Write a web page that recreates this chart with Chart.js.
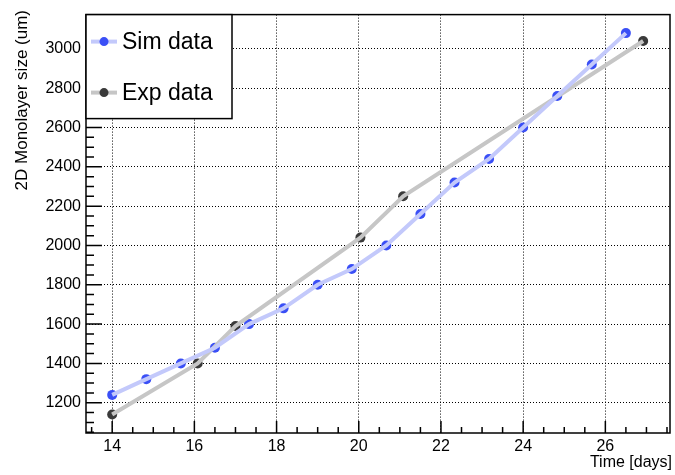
<!DOCTYPE html>
<html lang="en">
<head>
<meta charset="UTF-8" />
<title>Monolayer size</title>
<script src="https://cdn.jsdelivr.net/npm/chart.js@4.4.1/dist/chart.umd.min.js"></script>
<style>
  html, body { margin: 0; padding: 0; background: #fff; }
  #wrap { width: 675px; height: 475px; }
</style>
</head>
<body>
<div id="wrap"><canvas id="myChart" width="675" height="475"></canvas></div>
<script>
// values
const simDays = [14, 14.83, 15.67, 16.5, 17.33, 18.17, 19, 19.83, 20.67, 21.5, 22.33, 23.17, 24, 24.83, 25.67, 26.5];
const simSize = [1240, 1320, 1400, 1480, 1600, 1680, 1800, 1880, 2000, 2160, 2320, 2440, 2600, 2760, 2920, 3080];
const expDays = [14, 16.08, 17.0, 20.04, 21.08, 26.92];
const expSize = [1140, 1400, 1590, 2040, 2250, 3040];
const xTickValues = [14, 16, 18, 20, 22, 24, 26];
const yTickValues = [1200, 1400, 1600, 1800, 2000, 2200, 2400, 2600, 2800, 3000];
const seriesNames = ["Sim data", "Exp data"];

const FONT = "'Liberation Sans', Arial, Helvetica, sans-serif";
const SIM_LINE = "#c3c9fb";
const SIM_DOT = "#3a4ff6";
const EXP_LINE = "#c6c6c6";
const EXP_DOT = "#3a3a3a";

function toPoints(xs, ys) {
  return xs.map((x, i) => ({ x: x, y: ys[i] }));
}

// frame, inner ticks, legend box and axis titles
const rootStyle = {
  id: "rootStyle",
  afterDraw(chart) {
    const ctx = chart.ctx;
    const area = chart.chartArea;
    const xs = chart.scales.x;
    const ys = chart.scales.y;
    ctx.save();

    // tick marks pointing into the frame
    ctx.strokeStyle = "#000";
    ctx.lineWidth = 1.5;
    ctx.beginPath();
    for (let v = 13.5; v <= xs.max; v += 0.5) {
      const px = xs.getPixelForValue(v);
      const len = Number.isInteger(v / 2) ? 12 : 6;
      ctx.moveTo(px, area.bottom);
      ctx.lineTo(px, area.bottom - len);
    }
    for (let v = 1050; v <= ys.max; v += 50) {
      const py = ys.getPixelForValue(v);
      const len = v % 200 === 0 ? 16 : 8;
      ctx.moveTo(area.left, py);
      ctx.lineTo(area.left + len, py);
    }
    ctx.stroke();

    // frame
    ctx.lineWidth = 1.5;
    ctx.strokeRect(area.left, area.top, area.right - area.left, area.bottom - area.top);

    // legend
    const lx = area.left, ly = area.top, lw = 146, lh = 104;
    ctx.fillStyle = "#fff";
    ctx.fillRect(lx, ly, lw, lh);
    ctx.strokeRect(lx, ly, lw, lh);
    const rows = [
      { name: seriesNames[0], line: SIM_LINE, dot: SIM_DOT, y: ly + 27 },
      { name: seriesNames[1], line: EXP_LINE, dot: EXP_DOT, y: ly + 78 },
    ];
    rows.forEach((r) => {
      ctx.strokeStyle = r.line;
      ctx.lineWidth = 4;
      ctx.beginPath();
      ctx.moveTo(lx + 5, r.y);
      ctx.lineTo(lx + 31, r.y);
      ctx.stroke();
      ctx.fillStyle = r.dot;
      ctx.beginPath();
      ctx.arc(lx + 18, r.y, 4.5, 0, Math.PI * 2);
      ctx.fill();
      ctx.fillStyle = "#000";
      ctx.font = "23px " + FONT;
      ctx.textAlign = "left";
      ctx.textBaseline = "middle";
      ctx.fillText(r.name, lx + 36, r.y + 1);
    });

    // axis titles
    ctx.fillStyle = "#000";
    ctx.font = "16px " + FONT;
    ctx.textAlign = "right";
    ctx.textBaseline = "middle";
    ctx.fillText("Time [days]", 672, 463);
    ctx.font = "17px " + FONT;
    ctx.translate(22, 10);
    ctx.rotate(-Math.PI / 2);
    ctx.fillText("2D Monolayer size (um)", 0, 0);

    ctx.restore();
  },
};

const ctx = document.getElementById("myChart").getContext("2d");

new Chart(ctx, {
  type: "scatter",
  data: {
    datasets: [
      {
        label: seriesNames[0] + " line",
        data: toPoints(simDays, simSize),
        showLine: true,
        borderColor: SIM_LINE,
        borderWidth: 4,
        pointRadius: 0,
      },
      {
        label: seriesNames[1] + " line",
        data: toPoints(expDays, expSize),
        showLine: true,
        borderColor: EXP_LINE,
        borderWidth: 4,
        pointRadius: 0,
      },
      {
        label: seriesNames[1],
        data: toPoints(expDays, expSize),
        pointRadius: 5,
        pointBorderWidth: 0,
        borderColor: EXP_DOT,
        backgroundColor: EXP_DOT,
      },
      {
        label: seriesNames[0],
        data: toPoints(simDays, simSize),
        pointRadius: 5,
        pointBorderWidth: 0,
        borderColor: SIM_DOT,
        backgroundColor: SIM_DOT,
      },
    ],
  },
  options: {
    responsive: false,
    animation: false,
    devicePixelRatio: 1,
    layout: { padding: { top: 14, right: 2, left: 0, bottom: 0 } },
    plugins: {
      legend: { display: false },
      tooltip: { enabled: false },
    },
    scales: {
      x: {
        type: "linear",
        min: 13.363,
        max: 27.573,
        afterFit: (scale) => { scale.height = 42; },
        afterBuildTicks: (scale) => { scale.ticks = xTickValues.map((v) => ({ value: v })); },
        grid: { color: "#000", lineWidth: 1, drawTicks: false },
        border: { display: false, dash: [1, 2] },
        ticks: {
          color: "#000",
          padding: 4,
          font: { family: FONT, size: 16 },
          callback: (v) => String(v),
        },
      },
      y: {
        type: "linear",
        min: 1046.1,
        max: 3174.2,
        afterFit: (scale) => { scale.width = 86; },
        afterBuildTicks: (scale) => { scale.ticks = yTickValues.map((v) => ({ value: v })); },
        grid: { color: "#000", lineWidth: 1, drawTicks: false },
        border: { display: false, dash: [1, 2] },
        ticks: {
          color: "#000",
          padding: 5,
          font: { family: FONT, size: 16 },
          callback: (v) => String(v),
        },
      },
    },
  },
  plugins: [rootStyle],
});
</script>
</body>
</html>
